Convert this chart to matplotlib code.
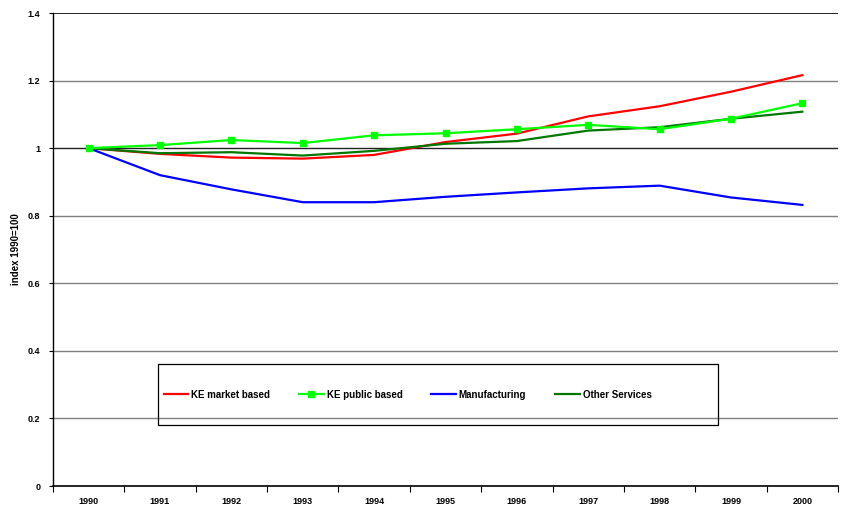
import matplotlib
matplotlib.use("Agg")
import matplotlib.pyplot as plt
from matplotlib.patches import Rectangle
import numpy as np

years = ["1990", "1991", "1992", "1993", "1994", "1995", "1996", "1997", "1998", "1999", "2000"]
ke_market = [1.000, 0.983, 0.972, 0.969, 0.980, 1.018, 1.043, 1.094, 1.124, 1.167, 1.216]
ke_public = [1.000, 1.009, 1.024, 1.015, 1.038, 1.044, 1.056, 1.069, 1.056, 1.087, 1.133]
manufacturing = [1.000, 0.920, 0.878, 0.840, 0.840, 0.856, 0.869, 0.881, 0.889, 0.854, 0.832]
other_services = [1.000, 0.985, 0.988, 0.978, 0.992, 1.013, 1.021, 1.052, 1.062, 1.087, 1.108]
y_ticks = [0, 0.2, 0.4, 0.6, 0.8, 1, 1.2, 1.4]

plt.rcParams["font.family"] = ["Liberation Sans", "DejaVu Sans"]

fig = plt.figure(figsize=(8.41, 5.08), dpi=100)
ax = fig.add_axes([0.0630, 0.0433, 0.9335, 0.9311])

x = np.arange(len(years))
ax.plot(x, ke_market, color="#ff0000", lw=1.6, label="KE market based", zorder=3)
ax.plot(x, ke_public, color="#00ff00", lw=1.6, marker="s", ms=4.5, label="KE public based", zorder=4)
ax.plot(x, manufacturing, color="#0000ff", lw=1.6, label="Manufacturing", zorder=3)
ax.plot(x, other_services, color="#007700", lw=1.6, label="Other Services", zorder=3)

ax.set_xlim(-0.5, len(years) - 0.5)
ax.set_ylim(0, 1.4)

# horizontal grid, the 1.0 reference line drawn darker
for v in y_ticks[1:]:
    col = "#222222" if v in (1, 1.4) else "#808080"
    ax.axhline(v, color=col, lw=1.0 if v != 1.4 else 1.4, zorder=1)

ax.set_yticks(y_ticks)
ax.set_yticklabels([f"{v:g}" for v in y_ticks], fontsize=6.5, fontweight="bold")
ax.tick_params(axis="y", length=3, width=0.8, pad=6)

# category ticks at boundaries, labels centred
ax.set_xticks(np.arange(-0.5, len(years)), minor=False)
ax.set_xticklabels([])
ax.tick_params(axis="x", which="major", length=4, width=0.8, direction="out")
ax.set_xticks(x, minor=True)
ax.set_xticklabels(years, minor=True, fontsize=6.5, fontweight="bold")
ax.tick_params(axis="x", which="minor", length=0, pad=8)

for s in ("top", "right"):
    ax.spines[s].set_visible(False)
ax.spines["left"].set_linewidth(1.0)
ax.spines["bottom"].set_linewidth(1.2)

ax.set_ylabel("index 1990=100", fontsize=7, fontweight="bold", labelpad=5)

# legend box drawn separately so it can be sized freely
ax.add_patch(Rectangle((0.1344, 0.129), 0.7123, 0.129, transform=ax.transAxes,
                       facecolor="none", edgecolor="black", lw=0.9, zorder=5))
ax.legend(loc="center left", bbox_to_anchor=(0.1415, 0.1934), ncol=4, numpoints=1,
          prop={"size": 7, "weight": "bold"}, frameon=False, handlelength=2.5,
          handletextpad=0.3, columnspacing=3.0, borderpad=0, borderaxespad=0)

fig.savefig("out.png", dpi=100)
